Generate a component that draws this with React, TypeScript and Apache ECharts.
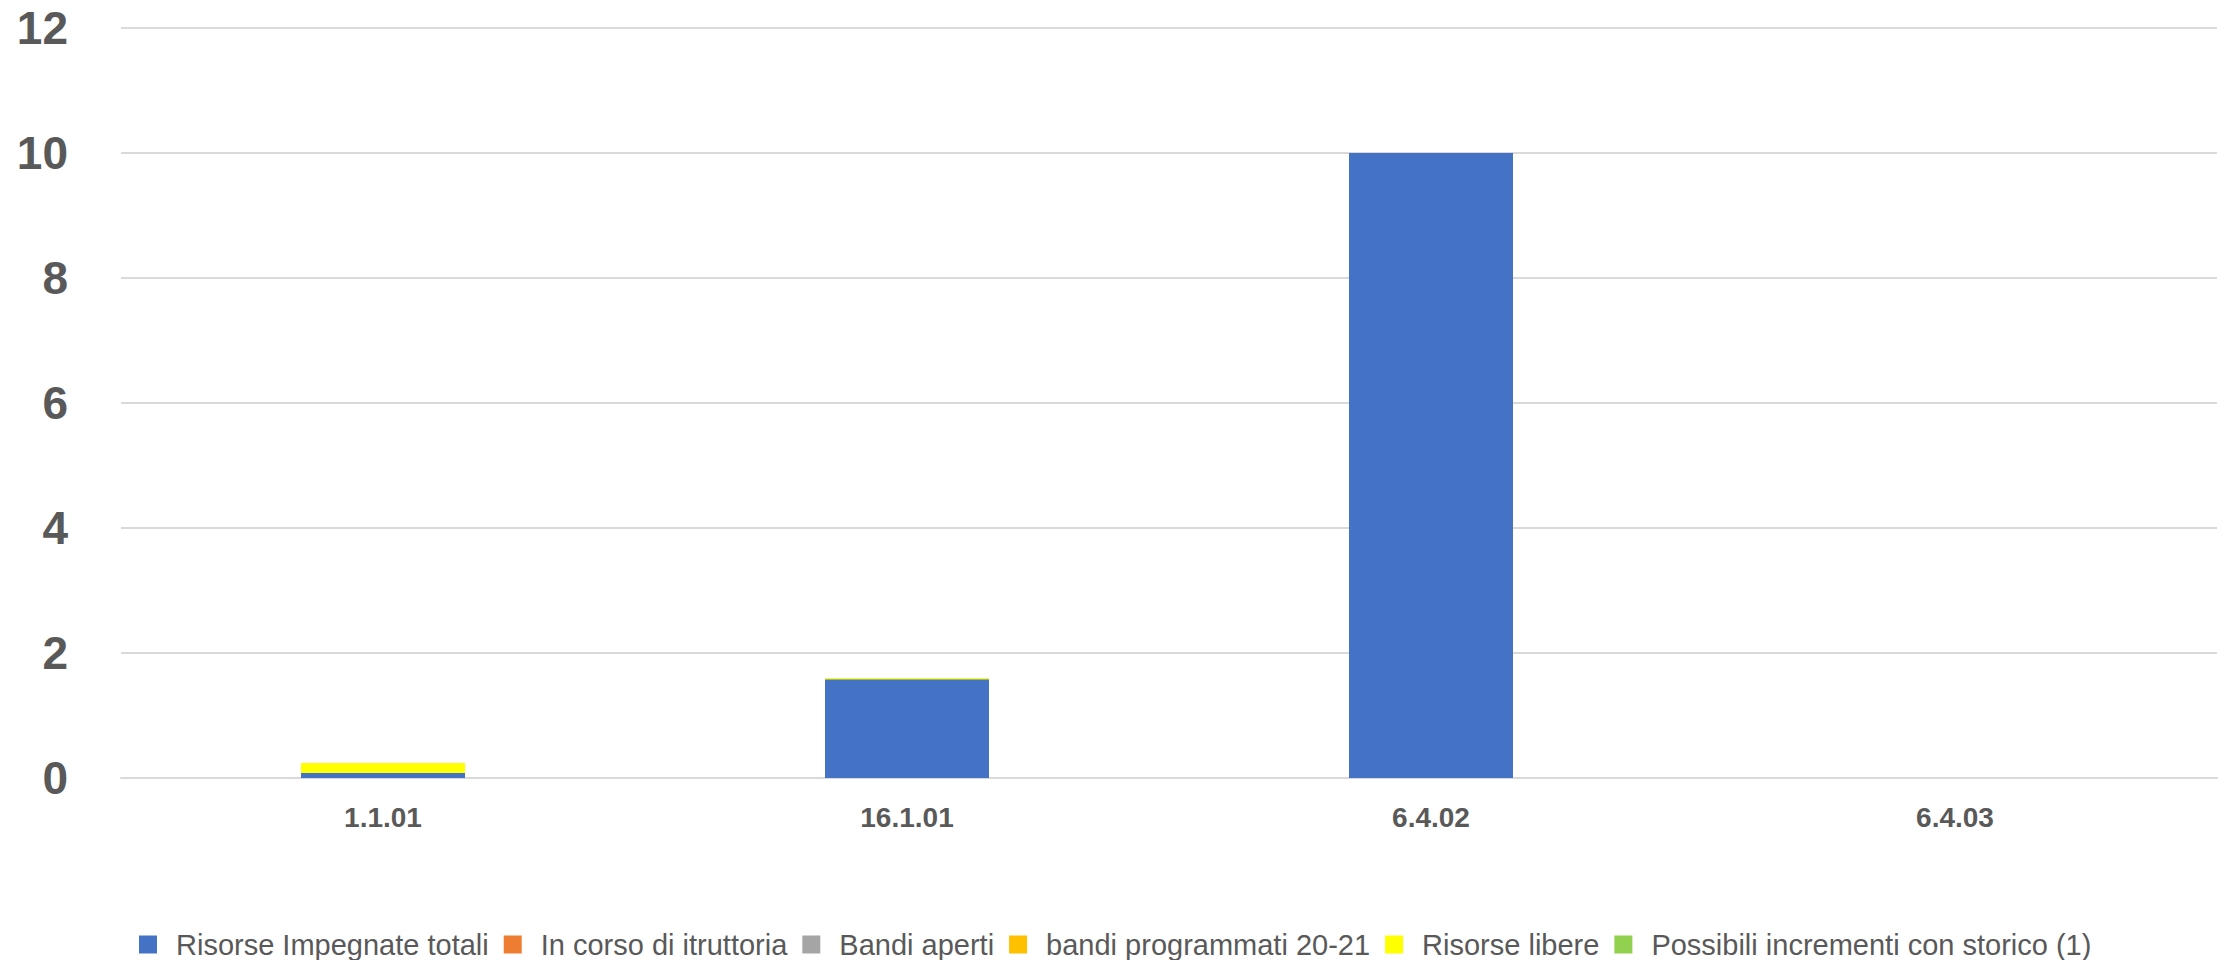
import React, { useEffect, useRef } from "react";
import * as echarts from "echarts";

const categories = ["1.1.01", "16.1.01", "6.4.02", "6.4.03"];
const seriesNames = [
  "Risorse Impegnate totali",
  "In corso di itruttoria",
  "Bandi aperti",
  "bandi programmati 20-21",
  "Risorse libere",
  "Possibili incrementi con storico (1)",
];
const risorseImpegnate = [0.08, 1.58, 10, 0];
const inCorso = [0, 0, 0, 0];
const bandiAperti = [0, 0, 0, 0];
const bandiProgrammati = [0, 0, 0, 0];
const risorseLibere = [0.16, 0.02, 0, 0];
const possibiliIncrementi = [0, 0, 0, 0];
const colors = ["#4472C4", "#ED7D31", "#A5A5A5", "#FFC000", "#FFFF00", "#92D050"];

export default function App() {
  const ref = useRef<HTMLDivElement>(null);
  useEffect(() => {
    if (!ref.current) return;
    const chart = echarts.init(ref.current, null, { renderer: "svg" });
    const values = [risorseImpegnate, inCorso, bandiAperti, bandiProgrammati, risorseLibere, possibiliIncrementi];
    chart.setOption({
      animation: false,
      color: colors,
      grid: { left: 121, right: 16, top: 28, bottom: 182, containLabel: false },
      legend: {
        left: 134,
        top: 925,
        itemWidth: 18,
        itemHeight: 18,
        itemGap: 15,
        icon: "rect",
        data: seriesNames,
        textStyle: {
          fontFamily: "Liberation Sans",
          fontSize: 29,
          color: "#595959",
          padding: [0, 0, 0, 14],
        },
      },
      xAxis: {
        type: "category",
        data: categories,
        axisLine: { lineStyle: { color: "#D9D9D9", width: 2 } },
        axisTick: { show: false },
        axisLabel: {
          fontFamily: "Liberation Sans",
          fontWeight: "bold",
          fontSize: 28,
          color: "#595959",
          margin: 25,
        },
      },
      yAxis: {
        type: "value",
        min: 0,
        max: 12,
        interval: 2,
        axisLine: { show: false },
        axisTick: { show: false },
        splitLine: { lineStyle: { color: "#D9D9D9", width: 2 } },
        axisLabel: {
          fontFamily: "Liberation Sans",
          fontWeight: "bold",
          fontSize: 46,
          color: "#595959",
          margin: 53,
        },
      },
      series: seriesNames.map((name, i) => ({
        name,
        type: "bar",
        stack: "total",
        barWidth: 164,
        data: values[i],
        itemStyle: { color: colors[i] },
      })),
    });
    return () => chart.dispose();
  }, []);
  return (
    <div
      ref={ref}
      style={{ position: "fixed", left: 0, top: 0, width: 2233, height: 960, background: "#fff" }}
    />
  );
}
